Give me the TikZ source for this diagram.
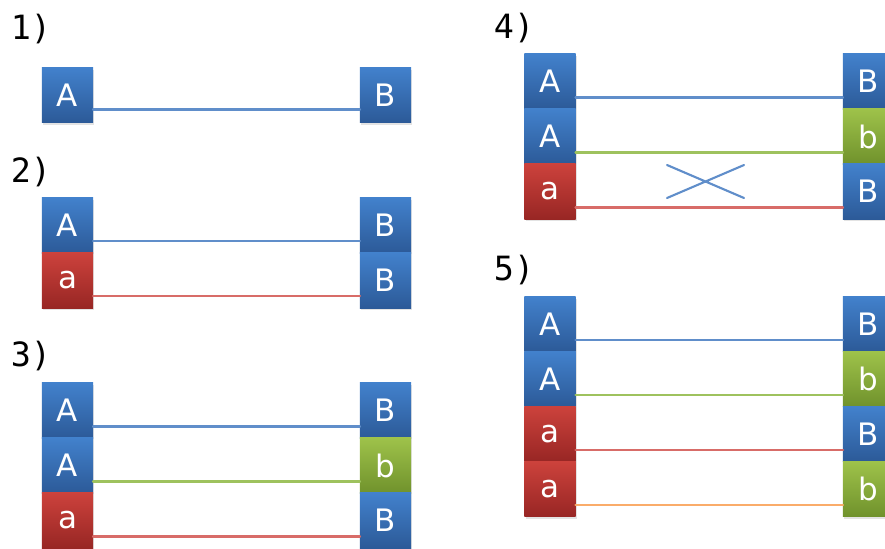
\documentclass[tikz,border=0pt]{standalone}
\usepackage{fontspec}
\setmainfont{DejaVu Sans}
\newfontfamily\steptagfont{DejaVu Sans Mono}
\usetikzlibrary{shadows}
\definecolor{BoxBlueTop}{RGB}{66,129,204}
\definecolor{BoxBlueBottom}{RGB}{44,90,152}
\definecolor{BoxRedTop}{RGB}{204,66,60}
\definecolor{BoxRedBottom}{RGB}{152,38,36}
\definecolor{BoxGreenTop}{RGB}{158,194,74}
\definecolor{BoxGreenBottom}{RGB}{112,146,44}
\definecolor{LinkBlue}{RGB}{96,142,202}
\definecolor{LinkGreen}{RGB}{158,194,94}
\definecolor{LinkRed}{RGB}{216,108,104}
\definecolor{LinkOrange}{RGB}{250,172,106}
\tikzset{
    pair/diagram/.style={
        x=0.01cm, y=-0.01cm,
        line cap=round,
        every node/.style={outer sep=0pt}
    },
    pair/box/.style={
        rectangle, draw=none, inner sep=0pt,
        minimum width=0.51cm, minimum height=0.55cm,
        text=white, font=\fontsize{8.8}{10}\selectfont,
        drop shadow={shadow xshift=0.4pt, shadow yshift=-0.7pt, opacity=0.22}
    },
    pair/big/.style={pair/box, top color=BoxBlueTop, bottom color=BoxBlueBottom},
    pair/small/.style={pair/box, top color=BoxRedTop, bottom color=BoxRedBottom},
    pair/smallb/.style={pair/box, top color=BoxGreenTop, bottom color=BoxGreenBottom},
    pair/link/.style={line width=0.6pt},
    pair/tag/.style={font=\steptagfont\fontsize{9.5}{10}\selectfont, inner sep=0pt}
}

\begin{document}
\begin{tikzpicture}[pair/diagram]
    \useasboundingbox (0,0) rectangle (885,548);

    % 1) one locus
    \node[pair/tag] (t1) at (31,29) {1)};
    \node[pair/big] (p1L1) at (67.5,95) {A};
    \node[pair/big] (p1R1) at (385.5,95) {B};
    \draw[pair/link, LinkBlue] ([yshift=0.13cm]p1L1.south east) -- ([yshift=0.13cm]p1R1.south west);

    % 2)
    \node[pair/tag] (t2) at (31,172) {2)};
    \node[pair/big]   (p2L1) at (67.5,225.5) {A};
    \node[pair/small] (p2L2) at (67.5,280.5) {a};
    \node[pair/big]   (p2R1) at (385.5,225.5) {B};
    \node[pair/big]   (p2R2) at (385.5,280.5) {B};
    \foreach \r/\c in {1/LinkBlue,2/LinkRed}
        \draw[pair/link, \c] ([yshift=0.12cm]p2L\r.south east) -- ([yshift=0.12cm]p2R\r.south west);

    % 3)
    \node[pair/tag] (t3) at (31,356) {3)};
    \node[pair/big]    (p3L1) at (67.5,410.5) {A};
    \node[pair/big]    (p3L2) at (67.5,465.5) {A};
    \node[pair/small]  (p3L3) at (67.5,520.5) {a};
    \node[pair/big]    (p3R1) at (385.5,410.5) {B};
    \node[pair/smallb] (p3R2) at (385.5,465.5) {b};
    \node[pair/big]    (p3R3) at (385.5,520.5) {B};
    \foreach \r/\c in {1/LinkBlue,2/LinkGreen,3/LinkRed}
        \draw[pair/link, \c] ([yshift=0.115cm]p3L\r.south east) -- ([yshift=0.115cm]p3R\r.south west);

    % 4) same as 3), crossed out
    \node[pair/tag] (t4) at (514,28) {4)};
    \node[pair/big]    (p4L1) at (550,81.5) {A};
    \node[pair/big]    (p4L2) at (550,136.5) {A};
    \node[pair/small]  (p4L3) at (550,191.5) {a};
    \node[pair/big]    (p4R1) at (868.5,81.5) {B};
    \node[pair/smallb] (p4R2) at (868.5,136.5) {b};
    \node[pair/big]    (p4R3) at (868.5,191.5) {B};
    \foreach \r/\c in {1/LinkBlue,2/LinkGreen,3/LinkRed}
        \draw[pair/link, \c] ([yshift=0.115cm]p4L\r.south east) -- ([yshift=0.115cm]p4R\r.south west);
    \coordinate (x1) at (667,165);
    \coordinate (x2) at (744,198);
    \coordinate (x3) at (667,198);
    \coordinate (x4) at (744,165);
    \draw[pair/link, LinkBlue] (x1) -- (x2) (x3) -- (x4);

    % 5)
    \node[pair/tag] (t5) at (514,270) {5)};
    \node[pair/big]    (p5L1) at (550,324) {A};
    \node[pair/big]    (p5L2) at (550,379) {A};
    \node[pair/small]  (p5L3) at (550,434) {a};
    \node[pair/small]  (p5L4) at (550,489) {a};
    \node[pair/big]    (p5R1) at (868.5,324) {B};
    \node[pair/smallb] (p5R2) at (868.5,379) {b};
    \node[pair/big]    (p5R3) at (868.5,434) {B};
    \node[pair/smallb] (p5R4) at (868.5,489) {b};
    \foreach \r/\c in {1/LinkBlue,2/LinkGreen,3/LinkRed,4/LinkOrange}
        \draw[pair/link, \c] ([yshift=0.115cm]p5L\r.south east) -- ([yshift=0.115cm]p5R\r.south west);
\end{tikzpicture}
\end{document}
